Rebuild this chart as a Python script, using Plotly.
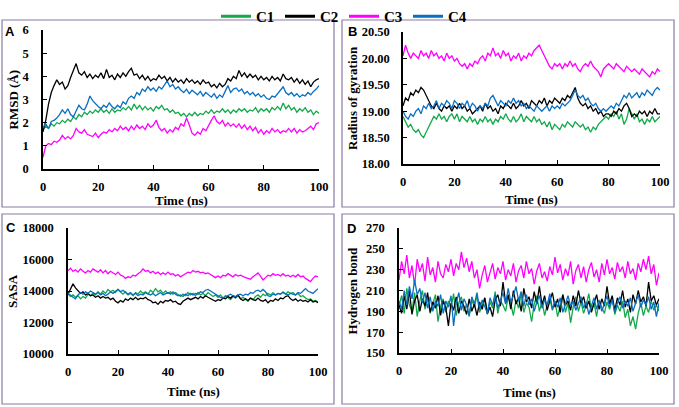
import plotly.graph_objects as go

W, H = 679, 407
time_ns = list(range(0, 101))

rmsd_c1 = [1.70,1.85,1.75,1.95,1.85,2.00,1.95,2.10,2.00,2.15,
2.05,2.25,2.15,2.35,2.25,2.45,2.35,2.50,2.40,2.55,
2.45,2.60,2.45,2.55,2.40,2.60,2.45,2.55,2.50,2.65,
2.55,2.70,2.55,2.80,2.60,2.75,2.55,2.70,2.55,2.65,
2.50,2.70,2.60,2.75,2.55,2.60,2.45,2.55,2.40,2.45,
2.30,2.40,2.25,2.40,2.30,2.45,2.30,2.40,2.35,2.50,
2.40,2.55,2.40,2.50,2.45,2.60,2.45,2.55,2.40,2.55,
2.45,2.60,2.50,2.60,2.45,2.55,2.50,2.65,2.45,2.60,
2.50,2.60,2.45,2.65,2.55,2.70,2.55,2.85,2.60,2.75,
2.55,2.65,2.45,2.60,2.50,2.65,2.45,2.55,2.35,2.50,2.40]
rmsd_c2 = [1.60,2.10,2.80,3.30,3.60,3.85,3.65,3.75,3.45,3.60,
3.95,4.25,4.55,4.15,4.05,4.20,3.95,4.10,3.90,4.05,
3.95,4.15,3.90,4.30,3.95,4.05,3.85,4.10,3.95,4.15,
4.00,4.20,4.35,4.05,4.10,3.90,4.05,3.85,4.00,3.80,
3.90,3.85,4.05,3.90,4.00,3.80,3.95,3.75,3.90,3.75,
3.85,3.70,3.90,3.75,3.85,3.70,3.80,3.65,3.85,3.70,
3.75,3.55,3.65,3.50,3.70,3.55,3.65,3.90,3.80,4.00,
3.90,4.25,4.00,4.15,3.95,4.10,3.95,4.05,3.85,4.00,
3.85,3.95,3.80,4.00,3.85,3.95,3.80,4.10,3.90,3.85,
3.95,3.75,3.90,3.70,3.85,3.65,3.80,3.55,3.75,3.85,3.90]
rmsd_c3 = [0.50,1.00,1.10,1.05,1.20,1.15,1.25,1.45,1.30,1.40,
1.30,1.45,1.75,1.60,1.55,1.70,1.50,1.45,1.40,1.55,
1.35,1.50,1.60,1.55,1.70,1.60,1.75,1.65,1.85,1.70,
1.80,1.65,1.85,1.70,1.90,1.75,1.85,1.70,1.95,1.80,
1.90,2.10,1.80,1.65,1.75,1.55,1.70,1.60,1.80,1.70,
1.95,1.85,2.20,1.90,1.55,1.45,1.60,1.50,1.75,1.65,
1.90,2.10,2.30,2.05,1.95,2.10,1.85,2.00,1.85,1.95,
1.80,1.95,1.75,1.90,1.70,1.85,1.65,1.80,1.55,1.70,
1.50,1.65,1.55,1.75,1.60,1.70,1.55,1.65,1.60,1.75,
1.60,1.75,1.55,1.70,1.60,1.65,1.75,1.85,1.70,1.95,2.00]
rmsd_c4 = [1.80,1.95,1.75,2.05,2.10,2.20,2.35,2.55,2.40,2.60,
2.35,2.25,2.50,2.75,2.60,2.55,2.80,3.15,2.95,2.80,
2.70,2.60,2.75,2.65,2.85,2.70,2.60,2.75,2.65,2.90,
2.80,3.05,3.15,3.05,3.30,3.20,3.45,3.35,3.55,3.40,
3.50,3.35,3.55,3.45,3.60,3.80,3.55,3.65,3.45,3.55,
3.40,3.30,3.45,3.25,3.40,3.30,3.20,3.35,3.15,3.30,
3.20,3.10,3.25,3.05,3.20,3.10,3.35,3.60,3.30,3.45,
3.50,3.35,3.45,3.25,3.35,3.20,3.30,3.15,3.25,3.10,
3.20,3.05,3.00,3.15,3.10,3.25,3.45,3.55,3.30,3.20,
3.30,3.15,3.25,3.10,3.20,3.15,3.30,3.20,3.35,3.45,3.60]

rg_c1 = [18.90,18.80,18.70,18.75,18.65,18.60,18.65,18.55,18.50,18.60,
18.70,18.80,18.90,18.85,18.95,18.85,18.90,18.80,18.90,18.95,
18.85,18.95,18.80,18.90,18.85,18.80,18.90,18.80,18.85,18.75,
18.85,18.80,18.90,18.80,18.85,18.75,18.85,18.80,18.90,18.85,
18.95,18.85,18.80,18.90,18.80,18.85,18.95,18.80,18.90,18.85,
18.80,18.90,18.80,18.85,18.75,18.80,18.70,18.80,18.65,18.75,
18.70,18.65,18.75,18.70,18.80,18.75,18.70,18.80,18.75,18.70,
18.75,18.65,18.70,18.60,18.70,18.65,18.75,18.80,18.85,18.90,
18.85,18.95,18.90,19.00,18.85,18.95,18.75,18.85,19.05,18.95,
18.85,18.95,18.80,18.85,18.75,18.85,18.80,18.90,18.80,18.85,18.90]
rg_c2 = [19.10,19.25,19.20,19.35,19.30,19.40,19.35,19.45,19.40,19.30,
19.20,19.10,19.05,19.15,19.05,19.00,19.10,19.05,19.10,19.00,
19.10,19.05,19.15,19.05,19.10,19.00,19.05,18.95,19.00,19.05,
19.10,19.00,19.15,19.05,19.10,19.00,19.05,18.95,19.10,19.05,
19.15,19.10,19.05,19.15,19.05,19.10,19.20,19.10,19.15,19.05,
19.20,19.15,19.10,19.20,19.15,19.25,19.10,19.20,19.15,19.25,
19.20,19.15,19.25,19.20,19.30,19.25,19.35,19.45,19.25,19.15,
19.10,19.15,19.05,19.10,19.00,19.05,18.95,19.00,18.90,18.95,
18.95,18.90,19.00,18.95,19.05,19.00,19.10,19.15,19.05,18.90,
18.95,18.90,19.00,18.95,19.00,18.90,19.00,18.95,19.05,18.95,18.95]
rg_c3 = [20.05,20.25,20.10,20.00,20.10,20.05,20.00,20.15,20.05,20.10,
20.00,20.15,20.05,20.10,20.00,20.05,19.95,20.10,20.00,20.05,
19.95,20.00,19.90,19.85,19.90,19.80,19.90,19.85,19.95,19.90,
20.00,20.05,19.95,20.10,20.05,20.20,20.05,20.10,20.00,20.15,
20.05,20.10,19.95,20.05,20.00,20.10,19.95,20.05,20.00,20.10,
20.05,20.15,20.20,20.25,20.15,20.05,19.95,19.85,19.80,19.90,
19.85,19.90,19.80,19.90,19.85,19.95,19.85,19.90,19.80,19.75,
19.85,19.90,19.85,19.95,19.85,19.80,19.75,19.65,19.80,19.85,
19.90,19.85,19.80,19.90,19.85,19.80,19.75,19.85,19.80,19.75,
19.80,19.75,19.70,19.80,19.75,19.70,19.65,19.75,19.70,19.80,19.75]
rg_c4 = [19.00,18.90,18.85,18.95,18.90,19.00,19.05,18.95,19.10,19.05,
19.15,19.05,19.10,19.20,19.05,19.15,19.10,19.20,19.15,19.05,
19.20,19.15,19.05,19.15,19.10,19.20,19.05,19.15,19.10,19.00,
19.10,19.05,19.15,19.10,19.25,19.30,19.20,19.10,19.20,19.15,
19.10,19.20,19.15,19.25,19.15,19.20,19.10,19.15,19.05,19.10,
19.05,19.00,19.10,19.05,19.00,19.05,19.10,19.00,19.10,19.05,
19.10,19.05,19.15,19.10,19.15,19.20,19.30,19.40,19.30,19.25,
19.30,19.20,19.25,19.15,19.10,19.15,19.05,19.00,19.05,19.00,
19.05,19.10,19.05,19.15,19.10,19.20,19.30,19.25,19.35,19.25,
19.30,19.35,19.25,19.35,19.30,19.40,19.35,19.30,19.40,19.45,19.40]

sasa_c1 = [13800,13650,13750,13600,13700,13500,13650,13550,13800,13700,
13850,13750,13950,13800,14000,13850,14100,13950,14050,13900,
14100,13950,13800,13950,13750,13850,13700,13900,13800,14000,
13850,13950,13800,14050,13900,14150,13950,14050,13850,14000,
13850,13950,13800,13900,13750,13650,13800,13700,13900,13750,
13850,13700,13900,13750,13850,13700,13900,13750,13650,13750,
13600,13750,13550,13700,13600,13450,13650,13550,13700,13500,
13600,13450,13350,13550,13450,13650,13750,13600,13800,13700,
13850,13750,13900,13750,13850,13800,13950,13800,13950,13850,
13900,13750,13850,13650,13700,13550,13450,13500,13350,13400,13300]
sasa_c2 = [13800,14100,14450,14200,14000,13850,13950,13750,13850,13700,
13750,13600,13700,13550,13650,13550,13600,13450,13550,13350,
13250,13400,13300,13500,13400,13550,13450,13600,13450,13550,
13500,13600,13450,13400,13250,13300,13150,13350,13250,13400,
13350,13450,13300,13350,13200,13150,13350,13450,13550,13450,
13550,13600,13500,13650,13550,13700,13600,13500,13400,13350,
13450,13400,13550,13500,13650,13550,13700,13600,13750,13500,
13400,13500,13400,13550,13450,13400,13550,13400,13350,13450,
13250,13400,13350,13500,13400,13550,13500,13650,13700,13500,
13400,13500,13350,13450,13350,13400,13300,13450,13300,13350,13250]
sasa_c3 = [15300,15450,15250,15350,15200,15400,15250,15150,15300,15200,
15400,15300,15200,15350,15150,15300,15100,15250,15150,15050,
15200,15000,14950,14800,14900,14850,15000,14950,15100,15200,
15400,15250,15300,15150,15250,15100,15200,15050,15150,15050,
15200,15050,15100,14950,15050,14900,15000,15100,15200,15150,
15300,15200,15250,15150,15200,15100,15150,15050,14950,14850,
14950,14850,15000,14950,15100,15000,14900,15050,14950,15000,
14900,14850,14800,14750,14900,15000,15150,14950,14700,14850,
15000,14950,15100,15000,15050,14950,15100,14950,15000,14900,
15000,14900,15050,14900,14950,14800,14700,14600,14800,14950,14900]
sasa_c4 = [13850,13700,13600,13500,13750,13900,13800,13950,13850,14000,
13900,13800,13900,13750,13850,13700,13800,13950,13850,14000,
14100,13950,14050,13900,13800,13900,13750,13850,13700,13800,
13750,13900,13800,13750,13850,13700,13800,13900,13750,13850,
13900,13800,13950,13800,13700,13750,13650,13800,13700,13850,
13750,13850,13800,13950,13900,14050,14100,14000,13900,13750,
13700,13600,13550,13650,13750,13800,13700,13650,13750,13800,
13700,13800,13750,13900,13850,14000,14050,13950,14100,13950,
13700,13650,13800,13750,13850,13800,13900,13800,13750,13850,
13800,13750,13900,13850,14000,14150,14000,13950,13850,14000,14150]

hb_c1 = [195,205,188,212,196,190,208,185,200,210,
192,203,188,198,206,180,195,202,189,200,
193,207,186,198,204,190,197,185,201,194,
205,189,196,203,187,199,193,209,188,200,
196,190,204,197,186,201,193,207,189,198,
194,180,197,205,190,200,186,196,203,191,
199,185,195,206,189,198,179,194,204,190,
199,188,196,207,191,198,185,201,194,188,
199,192,203,187,196,190,200,184,192,176,
185,173,188,198,186,195,189,200,191,196,190]
hb_c2 = [196,188,205,192,210,187,200,206,190,202,
195,208,189,199,193,205,186,200,194,176,
198,191,204,188,200,195,187,202,190,197,
186,199,192,203,188,194,185,201,206,195,
218,198,206,192,210,197,203,190,212,199,
204,193,209,197,214,196,205,191,200,208,
194,202,189,206,196,200,191,205,195,210,
198,204,193,200,189,197,206,192,202,195,
214,197,205,191,203,196,210,194,202,189,
206,197,210,199,204,195,218,200,205,196,202]
hb_c3 = [220,238,226,244,222,234,215,240,228,236,
219,242,225,232,218,238,226,222,235,228,
240,224,236,230,247,232,241,228,238,222,
230,212,225,234,218,228,236,221,232,226,
238,220,230,224,236,218,229,234,222,238,
226,231,216,229,236,222,228,219,233,225,
242,227,235,220,231,224,238,216,229,235,
222,233,218,230,237,223,230,218,236,225,
240,226,232,221,237,228,233,222,238,226,
231,220,236,228,240,230,243,226,235,215,227]
hb_c4 = [200,192,210,196,214,202,220,206,212,198,
208,193,204,190,200,195,206,188,200,194,
205,176,198,208,191,202,196,186,204,197,
208,192,201,195,188,203,196,206,193,200,
208,197,212,199,205,214,200,209,195,206,
196,202,190,199,205,193,201,196,207,192,
200,194,203,189,198,205,195,200,191,197,
204,193,199,187,196,203,192,200,190,197,
205,194,201,189,198,204,193,200,195,203,
190,198,206,194,201,196,204,192,199,185,198]

series_names = ["C1", "C2", "C3", "C4"]
series_colors = ["#12a84b", "#000000", "#ff00ff", "#0a6fc2"]

panels = [
    dict(letter="A", data=[rmsd_c1, rmsd_c2, rmsd_c3, rmsd_c4], ytitle="RMSD (Å)",
         yrange=[0, 6], dtick=1, fmt="d",
         plot=(43, 30, 319, 169), box=(2, 20, 334, 207), letter_xy=(10, 32),
         ytitle_x=13, xtitle_y=201, standoff=10),
    dict(letter="B", data=[rg_c1, rg_c2, rg_c3, rg_c4], ytitle="Radius of gyration",
         yrange=[18, 20.5], dtick=0.5, fmt=".2f",
         plot=(403, 32, 660, 164), box=(342, 20, 674, 207), letter_xy=(352, 32),
         ytitle_x=352, xtitle_y=199, standoff=9),
    dict(letter="C", data=[sasa_c1, sasa_c2, sasa_c3, sasa_c4], ytitle="SASA",
         yrange=[10000, 18000], dtick=2000, fmt="d",
         plot=(68, 228, 318, 354), box=(2, 214, 334, 404), letter_xy=(11, 227),
         ytitle_x=12, xtitle_y=391, standoff=10),
    dict(letter="D", data=[hb_c1, hb_c2, hb_c3, hb_c4], ytitle="Hydrogen bond",
         yrange=[150, 270], dtick=20, fmt="d",
         plot=(399, 228, 659, 353), box=(342, 214, 674, 404), letter_xy=(351, 228),
         ytitle_x=352, xtitle_y=392, standoff=10),
]

def px(x):
    return x / W

def py(y):
    return 1 - y / H

serif = "Liberation Serif"
fig = go.Figure()
layout = dict(width=W, height=H, margin=dict(l=0, r=0, t=0, b=0, autoexpand=False),
              paper_bgcolor="white", plot_bgcolor="white", shapes=[], annotations=[])

for i, p in enumerate(panels):
    n = i + 1
    xa = "x" if n == 1 else f"x{n}"
    ya = "y" if n == 1 else f"y{n}"
    for vals, name, col in zip(p["data"], series_names, series_colors):
        fig.add_trace(go.Scatter(x=time_ns, y=vals, mode="lines", name=name,
                                 line=dict(color=col, width=1.3),
                                 xaxis=xa, yaxis=ya, showlegend=False))
    x0, y0, x1, y1 = p["plot"]
    axis_common = dict(showline=True, linecolor="black", linewidth=1.5, ticks="inside",
                       ticklen=4, tickcolor="black", tickwidth=1.2, showgrid=False,
                       zeroline=False,
                       tickfont=dict(family=serif, size=12.5, color="black", weight="bold"))
    layout["xaxis" if n == 1 else f"xaxis{n}"] = dict(
        domain=[px(x0), px(x1)], range=[0, 100], dtick=20, tick0=0, anchor=ya,
        ticklabelstandoff=5, **axis_common)
    layout["yaxis" if n == 1 else f"yaxis{n}"] = dict(
        domain=[py(y1), py(y0)], range=p["yrange"], dtick=p["dtick"], tick0=p["yrange"][0],
        tickformat=p["fmt"], anchor=xa, ticklabelstandoff=p["standoff"], **axis_common)
    bx0, by0, bx1, by1 = p["box"]
    layout["shapes"].append(dict(type="rect", xref="paper", yref="paper",
                                 x0=px(bx0), x1=px(bx1), y0=py(by1), y1=py(by0),
                                 line=dict(color="#8d7ba6", width=1.2)))
    lx, ly = p["letter_xy"]
    layout["annotations"].append(dict(text=f"<b>{p['letter']}</b>", xref="paper", yref="paper",
                                      x=px(lx), y=py(ly), xanchor="center", yanchor="middle",
                                      showarrow=False,
                                      font=dict(family="Liberation Sans", size=13, color="black")))
    layout["annotations"].append(dict(text="<b>" + p["ytitle"] + "</b>", xref="paper", yref="paper",
                                      x=px(p["ytitle_x"]), y=py((y0 + y1) / 2), textangle=-90,
                                      xanchor="center", yanchor="middle", showarrow=False,
                                      font=dict(family=serif, size=13, color="black")))
    layout["annotations"].append(dict(text="<b>Time (ns)</b>", xref="paper", yref="paper",
                                      x=px((x0 + x1) / 2), y=py(p["xtitle_y"]),
                                      xanchor="center", yanchor="middle", showarrow=False,
                                      font=dict(family=serif, size=13, color="black")))

# legend entries (thicker line keys, no data drawn)
for name, col in zip(series_names, series_colors):
    fig.add_trace(go.Scatter(x=[None], y=[None], mode="lines", name=name,
                             line=dict(color=col, width=3), xaxis="x", yaxis="y",
                             showlegend=True))

layout["legend"] = dict(orientation="h", x=px(216), y=py(0), xanchor="left", yanchor="top",
                        font=dict(family=serif, size=15, color="black", weight="bold"),
                        entrywidth=19, entrywidthmode="pixels", bgcolor="rgba(0,0,0,0)",
                        tracegroupgap=0)
fig.update_layout(**layout)
fig.write_html("out.html", config={"displayModeBar": False},
               post_script="document.body.style.margin='0';")
